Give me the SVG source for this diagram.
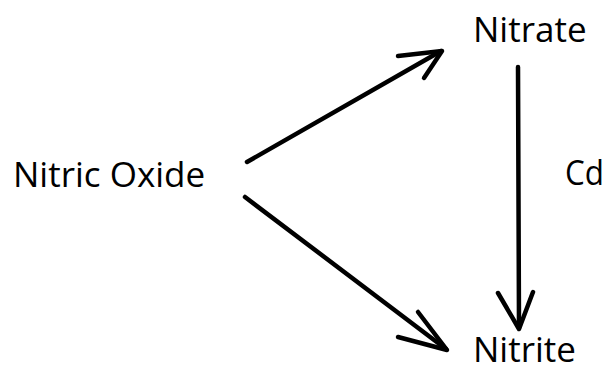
<svg xmlns="http://www.w3.org/2000/svg" width="607" height="366" viewBox="0 0 607 366">
<style>
.lbl{font-family:"Open Sans","Noto Sans","Liberation Sans",sans-serif;font-size:35px;fill:#000}
.ln{fill:none;stroke:#000;stroke-width:4.5;stroke-linecap:round;stroke-linejoin:round}
</style>
<rect width="607" height="366" fill="#fff"/>
<g id="connectors">
<g id="e1"><line class="ln" x1="247" y1="162" x2="441" y2="51"/><polyline class="ln" points="398,56 442,51 424,78"/></g>
<g id="e2"><line class="ln" x1="245" y1="197" x2="446" y2="349"/><polyline class="ln" points="398,337 447,350 418,312"/></g>
<g id="e3"><line class="ln" x1="518" y1="67" x2="519" y2="328"/><polyline class="ln" points="498,293 519,329 533,292"/></g>
<text id="cd" class="lbl" x="565" y="185" textLength="39" lengthAdjust="spacingAndGlyphs">Cd</text>
</g>
<g id="nitric-oxide"><text class="lbl" x="13" y="187">Nitric Oxide</text></g>
<g id="nitrate"><text class="lbl" x="473" y="42">Nitrate</text></g>
<g id="nitrite"><text class="lbl" x="473" y="362">Nitrite</text></g>
</svg>
